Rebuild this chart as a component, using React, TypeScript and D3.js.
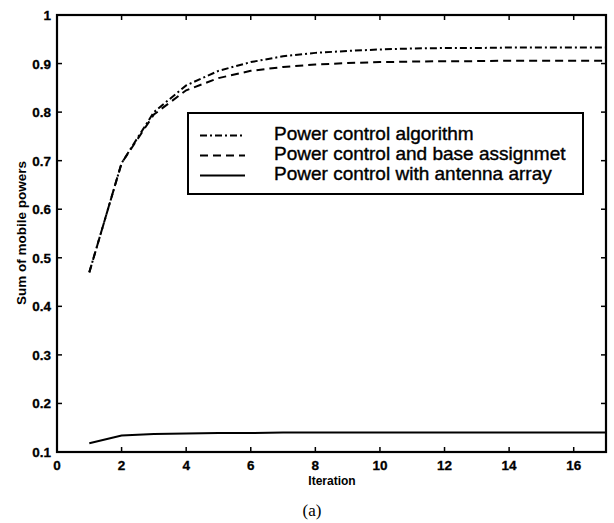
import React, { useEffect, useRef } from 'react';
import * as d3 from 'd3';

const iterations = [1, 2, 3, 4, 5, 6, 7, 8, 9, 10, 11, 12, 13, 14, 15, 16, 17];
const powerControl = [0.47, 0.695, 0.8, 0.855, 0.885, 0.903, 0.915, 0.922, 0.926, 0.929, 0.931, 0.932, 0.932, 0.933, 0.933, 0.933, 0.933];
const baseAssign = [0.47, 0.695, 0.795, 0.845, 0.87, 0.885, 0.893, 0.898, 0.901, 0.903, 0.904, 0.905, 0.905, 0.906, 0.906, 0.906, 0.906];
const antennaArray = [0.118, 0.134, 0.137, 0.138, 0.139, 0.139, 0.14, 0.14, 0.14, 0.14, 0.14, 0.14, 0.14, 0.14, 0.14, 0.14, 0.14];

const xTicks = [0, 2, 4, 6, 8, 10, 12, 14, 16];
const yTicks = [0.1, 0.2, 0.3, 0.4, 0.5, 0.6, 0.7, 0.8, 0.9, 1];
const legendLabels = ['Power control algorithm', 'Power control and base assignmet', 'Power control with antenna array'];
const dashes = ['7,3,2,3', '8,5', null];

export default function App() {
  const ref = useRef(null);

  useEffect(() => {
    const svg = d3.select(ref.current);
    svg.selectAll('*').remove();

    // plot box
    const left = 57, right = 606, top = 15, bottom = 452;
    const font = 'Liberation Sans, Arial, Helvetica, sans-serif';

    const x = d3.scaleLinear().domain([0, 17]).range([left, right]);
    const y = d3.scaleLinear().domain([0.1, 1]).range([bottom, top]);

    const g = svg.append('g');

    // ticks on all four sides, pointing inward
    const tl = 5;
    for (const t of xTicks) {
      g.append('line').attr('x1', x(t)).attr('x2', x(t)).attr('y1', bottom).attr('y2', bottom - tl)
        .attr('stroke', '#000').attr('stroke-width', 1.5);
      g.append('line').attr('x1', x(t)).attr('x2', x(t)).attr('y1', top).attr('y2', top + tl)
        .attr('stroke', '#000').attr('stroke-width', 1.5);
      g.append('text').attr('x', x(t)).attr('y', 470).attr('text-anchor', 'middle')
        .attr('font-family', font).attr('font-weight', 'bold').attr('font-size', 13.5)
        .attr('stroke', '#000').attr('stroke-width', 0.3)
        .text(t);
    }
    for (const t of yTicks) {
      g.append('line').attr('x1', left).attr('x2', left + tl).attr('y1', y(t)).attr('y2', y(t))
        .attr('stroke', '#000').attr('stroke-width', 1.5);
      g.append('line').attr('x1', right).attr('x2', right - tl).attr('y1', y(t)).attr('y2', y(t))
        .attr('stroke', '#000').attr('stroke-width', 1.5);
      g.append('text').attr('x', 51).attr('y', y(t) + 5).attr('text-anchor', 'end')
        .attr('font-family', font).attr('font-weight', 'bold').attr('font-size', 13.5)
        .attr('stroke', '#000').attr('stroke-width', 0.3)
        .text(t === 1 ? '1' : d3.format('.1f')(t));
    }

    g.append('rect').attr('x', left).attr('y', top).attr('width', right - left).attr('height', bottom - top)
      .attr('fill', 'none').attr('stroke', '#000').attr('stroke-width', 2.2);

    const line = d3.line<number>()
      .x((d, i) => x(iterations[i]))
      .y((d) => y(d));

    const series = [powerControl, baseAssign, antennaArray];
    series.forEach((s, i) => {
      const p = g.append('path').attr('d', line(s)).attr('fill', 'none')
        .attr('stroke', '#000').attr('stroke-width', 2);
      if (dashes[i]) p.attr('stroke-dasharray', dashes[i]);
    });

    // legend
    const lg = g.append('g');
    lg.append('rect').attr('x', 188).attr('y', 113).attr('width', 395).attr('height', 81)
      .attr('fill', '#fff').attr('stroke', '#000').attr('stroke-width', 2);
    legendLabels.forEach((lab, i) => {
      const ly = 135.5 + i * 20;
      const l = lg.append('line').attr('x1', 200).attr('x2', 245).attr('y1', ly).attr('y2', ly)
        .attr('stroke', '#000').attr('stroke-width', 2);
      if (dashes[i]) l.attr('stroke-dasharray', dashes[i]);
      lg.append('text').attr('x', 274).attr('y', 140 + i * 20).attr('font-family', font)
        .attr('font-size', 19).attr('stroke', '#000').attr('stroke-width', 0.4)
        .attr('textLength', null).text(lab);
    });

    // axis labels
    g.append('text').attr('x', 332).attr('y', 485).attr('text-anchor', 'middle')
      .attr('font-family', font).attr('font-weight', 'bold').attr('font-size', 12).text('Iteration');
    g.append('text').attr('transform', 'translate(26,233) rotate(-90)').attr('text-anchor', 'middle')
      .attr('font-family', font).attr('font-weight', 'bold').attr('font-size', 13.5).text('Sum of mobile powers');

    g.append('text').attr('x', 312).attr('y', 516).attr('text-anchor', 'middle')
      .attr('font-family', 'Liberation Serif, Times New Roman, serif').attr('font-size', 17).text('(a)');
  }, []);

  return (
    <svg ref={ref} width={614} height={523}
      style={{ position: 'absolute', left: 0, top: 0, background: '#fff' }} />
  );
}
